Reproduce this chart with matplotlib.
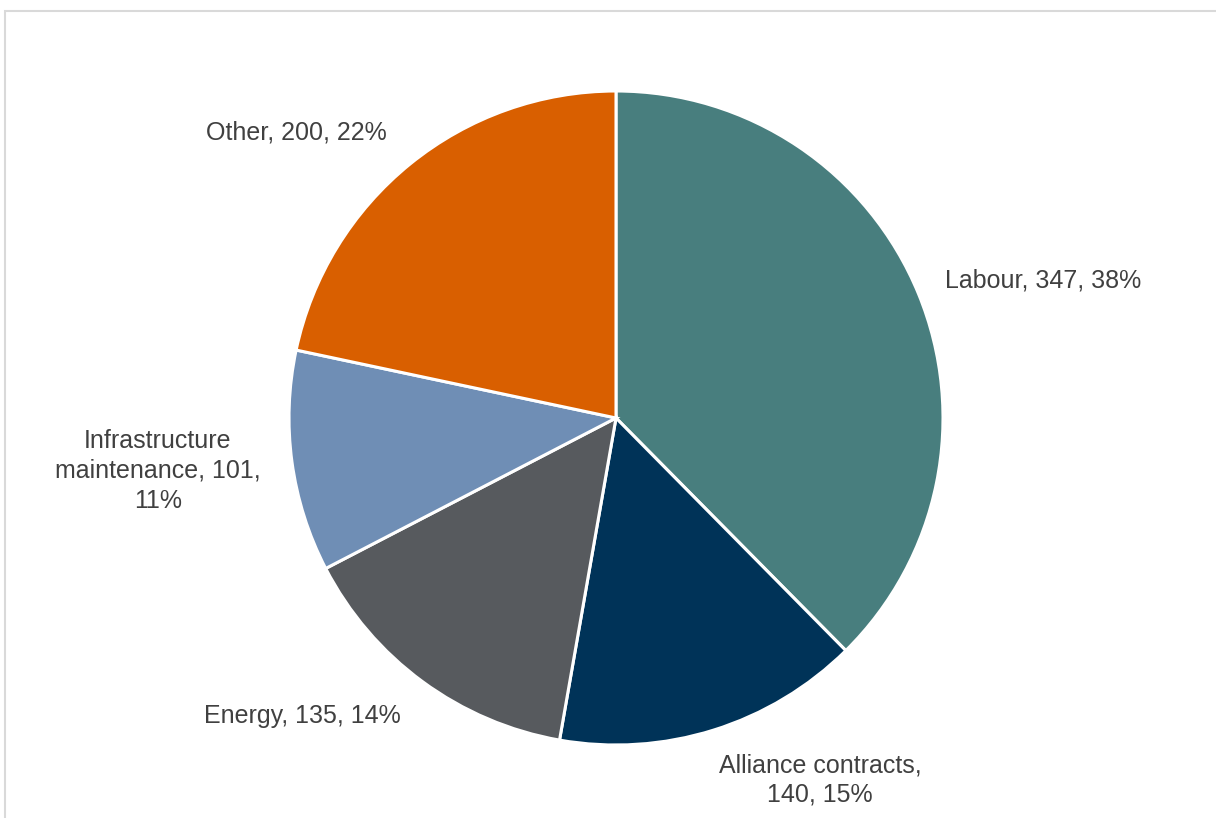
#!/usr/bin/env python3
"""Cost breakdown pie chart with Excel-style outside data labels."""

import matplotlib.pyplot as plt
from matplotlib.patches import Rectangle

categories = ["Labour", "Alliance contracts", "Energy", "Infrastructure maintenance", "Other"]
values = [347, 140, 135, 101, 200]
percents = [38, 15, 14, 11, 22]
colors = ["#487e7e", "#003358", "#575a5e", "#6f8eb5", "#d95f00"]

# label text lines and where each label sits, in pie-radius units
label_text = [
    "Labour, 347, 38%",
    "Alliance contracts,\n140, 15%",
    "Energy, 135, 14%",
    "Infrastructure\nmaintenance, 101,\n11%",
    "Other, 200, 22%",
]
label_pos = [(1.306, 0.422), (0.624, -1.107), (-0.960, -0.911), (-1.401, -0.162), (-0.976, 0.872)]

W, H = 1216, 818
CX, CY, R = 616, 418, 327

plt.rcParams["font.family"] = ["Liberation Sans", "DejaVu Sans"]

fig = plt.figure(figsize=(W / 100, H / 100), dpi=100)
ax = fig.add_axes([0, 0, 1, 1])

ax.pie(
    values,
    colors=colors,
    startangle=90,
    counterclock=False,
    radius=1.0,
    wedgeprops=dict(edgecolor="white", linewidth=2.2),
    frame=True,
)
ax.set_xlim(-CX / R, (W - CX) / R)
ax.set_ylim(-(H - CY) / R, CY / R)
ax.set_aspect("auto")
ax.axis("off")

for txt, (x, y) in zip(label_text, label_pos):
    ax.text(x, y, txt, ha="center", va="center", fontsize=18,
            color="#404040", linespacing=1.3)

# thin outer frame of the chart area
fig.add_artist(Rectangle((5 / W, -0.1), 1.2, 1 - 11 / H + 0.1,
                         transform=fig.transFigure, fill=False,
                         edgecolor="#d9d9d9", linewidth=1.5))

fig.savefig("out.png", dpi=100)
